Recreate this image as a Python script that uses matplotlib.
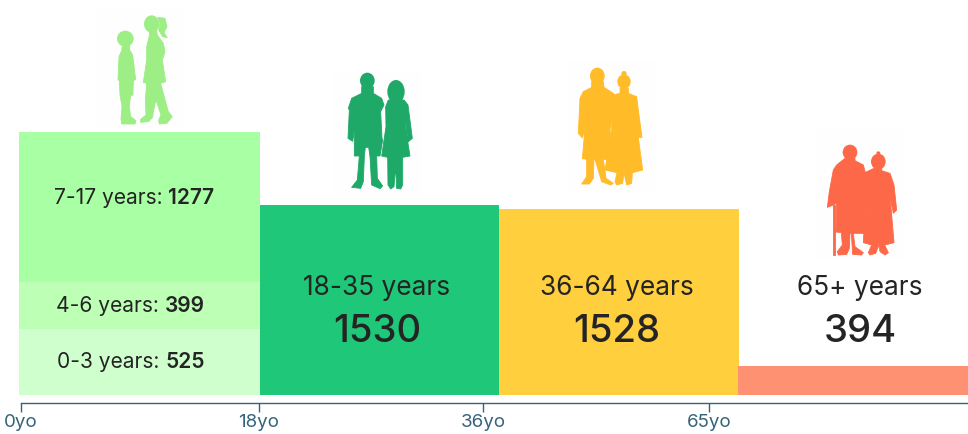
import matplotlib
matplotlib.use("Agg")
import matplotlib.pyplot as plt
from matplotlib.patches import Ellipse, Polygon, Rectangle

plt.rcParams["font.family"] = ["Inter", "DejaVu Sans"]

W, H = 968, 434
BASE = 395  # pixel row of the bars' baseline

# stacked children's bar
child_labels = ["0-3 years", "4-6 years", "7-17 years"]
child_values = [525, 399, 1277]
child_heights = [66, 47, 150]
child_colors = ["#D0FFCE", "#BCFFB5", "#A9FFA3"]
child_text_x = [131, 130, 134]
child_text_y = [362, 306, 198]

# the other bars
group_labels = ["18-35 years", "36-64 years", "65+ years"]
group_values = [1530, 1528, 394]
group_heights = [190, 186, 29]
group_lefts = [260, 499, 738]
group_widths = [239, 240, 230]
group_colors = ["#1EC878", "#FFCF3E", "#FF9173"]
group_text_x = [377, 617, 860]

tick_pos = [21, 259, 483, 709]
tick_labels = ["0yo", "18yo", "36yo", "65yo"]

INK = "#242424"
AXIS = "#35647A"


def px(pts, ox=0, oy=0, s=3):
    "zoomed crop coordinates to data coordinates"
    return [(ox + x / s, BASE - (oy + y / s)) for x, y in pts]


def blob(ax, cx, cy, w, h, color, ox=0, oy=0):
    (x, y), = px([(cx, cy)], ox, oy)
    ax.add_patch(Ellipse((x, y), w / 3, h / 3, color=color, lw=0, zorder=4))


def shape(ax, pts, color, ox=0, oy=0):
    ax.add_patch(Polygon(px(pts, ox, oy), closed=True, facecolor=color, edgecolor=color, lw=0.6,
                         joinstyle="round", zorder=4))


def backdrop(ax, x0, y0, x1, y1):
    ax.add_patch(Rectangle((x0, BASE - y1), x1 - x0, y1 - y0, color="#FFFEFE", lw=0, zorder=3))


def draw_children(ax):
    c = "#9DEE85"
    backdrop(ax, 97, 7, 185, 127)
    blob(ax, 376, 116, 50, 48, c)
    shape(ax, [(368, 130), (390, 135), (388, 148), (398, 165), (407, 238), (400, 243), (399, 285), (392, 287),
               (388, 320), (392, 350), (408, 362), (405, 372), (365, 372), (363, 355), (366, 320), (360, 285),
               (358, 243), (354, 238), (357, 170), (365, 152)], c)
    blob(ax, 455, 72, 46, 52, c)
    shape(ax, [(474, 52), (495, 55), (501, 80), (492, 98), (502, 113), (488, 110), (476, 90), (480, 70)], c)
    shape(ax, [(448, 90), (470, 92), (472, 105), (490, 130), (495, 155), (487, 180), (497, 245), (482, 250),
               (490, 280), (505, 335), (517, 350), (500, 370), (478, 372), (476, 360), (483, 345), (468, 300),
               (460, 335), (458, 352), (445, 365), (422, 367), (422, 358), (438, 345), (436, 300), (440, 250),
               (430, 247), (440, 180), (440, 140), (448, 108)], c)


def draw_adults(ax):
    c = "#1FA968"
    ox, oy = 320, 50
    backdrop(ax, 333, 72, 422, 196)
    blob(ax, 142, 92, 44, 48, c, ox, oy)
    shape(ax, [(125, 110), (160, 110), (160, 130), (185, 145), (192, 165), (182, 185), (186, 265), (188, 270),
               (180, 318), (170, 318), (172, 385), (188, 408), (180, 416), (155, 405), (150, 320), (146, 292),
               (136, 292), (133, 320), (130, 395), (122, 415), (95, 412), (112, 390), (118, 318), (103, 318),
               (103, 240), (98, 274), (84, 265), (88, 180), (85, 175), (95, 145), (125, 130)], c, ox, oy)
    blob(ax, 228, 125, 52, 70, c, ox, oy)
    shape(ax, [(205, 150), (252, 150), (264, 165), (277, 265), (264, 276), (257, 210), (256, 230), (270, 318),
               (248, 322), (248, 405), (242, 417), (230, 415), (227, 350), (222, 410), (212, 417), (204, 405),
               (203, 322), (185, 318), (198, 230), (197, 170)], c, ox, oy)


def draw_middle(ax):
    c = "#FFBB28"
    ox, oy = 320, 50
    backdrop(ax, 568, 60, 657, 191)
    blob(ax, 832, 78, 44, 50, c, ox, oy)
    shape(ax, [(815, 95), (850, 95), (852, 112), (880, 130), (885, 160), (870, 240), (880, 328), (850, 328),
               (858, 385), (880, 400), (872, 405), (845, 395), (825, 328), (822, 328), (820, 385), (808, 402),
               (785, 402), (800, 380), (800, 328), (787, 326), (795, 235), (787, 264), (775, 250), (780, 145),
               (790, 125), (815, 112)], c, ox, oy)
    blob(ax, 912, 95, 40, 44, c, ox, oy)
    blob(ax, 912, 71, 16, 16, c, ox, oy)
    shape(ax, [(900, 115), (925, 115), (925, 130), (950, 140), (955, 180), (966, 262), (956, 262), (950, 225),
               (968, 360), (937, 368), (935, 400), (920, 405), (912, 368), (908, 400), (890, 405), (885, 395),
               (891, 368), (855, 360), (875, 240), (878, 135), (900, 130)], c, ox, oy)


def draw_seniors(ax):
    c = "#FD6848"
    ox, oy = 680, 120
    backdrop(ax, 817, 129, 904, 260)
    blob(ax, 510, 97, 44, 46, c, ox, oy)
    shape(ax, [(495, 115), (525, 115), (525, 122), (550, 135), (558, 165), (553, 340), (520, 340), (525, 380),
               (550, 398), (545, 405), (518, 403), (514, 340), (510, 340), (508, 385), (500, 403), (475, 405),
               (472, 395), (487, 375), (484, 338), (468, 336), (470, 250), (460, 255), (442, 262), (448, 215),
               (460, 150), (470, 135)], c, ox, oy)
    shape(ax, [(460, 255), (466, 255), (466, 405), (460, 405)], c, ox, oy)
    blob(ax, 595, 125, 44, 48, c, ox, oy)
    blob(ax, 595, 99, 12, 10, c, ox, oy)
    shape(ax, [(582, 145), (605, 145), (605, 152), (630, 160), (642, 195), (650, 270), (640, 280), (630, 225),
               (642, 368), (614, 375), (625, 398), (615, 405), (600, 395), (597, 375), (587, 400), (570, 405),
               (565, 398), (575, 375), (550, 368), (555, 265), (550, 160)], c, ox, oy)


def mixed_label(ax, fig, cx, py, label, value):
    "regular label followed by a bold value, centred together"
    r = fig.canvas.get_renderer()
    a = ax.text(0, BASE - py, f"{label}: ", fontsize=15.1, color=INK, va="center", ha="left", zorder=5)
    b = ax.text(0, BASE - py, str(value), fontsize=15.1, color=INK, fontweight="semibold",
                va="center", ha="left", zorder=5)
    wa = a.get_window_extent(r).width
    wb = b.get_window_extent(r).width
    a.set_x(cx - (wa + wb) / 2)
    b.set_x(cx - (wa + wb) / 2 + wa)


fig = plt.figure(figsize=(W / 100, H / 100), dpi=100)
ax = fig.add_axes([0, 0, 1, 1])
ax.set_xlim(0, W)
ax.set_ylim(BASE - H, BASE)

bottom = 0
for h, col in zip(child_heights, child_colors):
    ax.bar(19, h, width=241, bottom=bottom, align="edge", color=col, lw=0)
    bottom += h
ax.bar(group_lefts, group_heights, width=group_widths, align="edge", color=group_colors, lw=0)

for x, y, lab, val in zip(child_text_x, child_text_y, child_labels, child_values):
    mixed_label(ax, fig, x, y, lab, val)
for x, lab, val in zip(group_text_x, group_labels, group_values):
    ax.text(x, BASE - 288, lab, fontsize=18.9, color=INK, ha="center", va="center", zorder=5)
    ax.text(x, BASE - 332, str(val), fontsize=27.5, color=INK, fontweight="medium", ha="center", va="center", zorder=5)

draw_children(ax)
draw_adults(ax)
draw_middle(ax)
draw_seniors(ax)

for s in ["top", "left", "right"]:
    ax.spines[s].set_visible(False)
ax.spines["bottom"].set_position(("data", BASE - 402.5))
ax.spines["bottom"].set_bounds(21, W)
ax.spines["bottom"].set_color(AXIS)
ax.spines["bottom"].set_linewidth(1)
ax.set_yticks([])
ax.set_xticks(tick_pos, tick_labels)
ax.tick_params(axis="x", direction="out", length=6.5, width=1, color=AXIS,
               labelcolor=AXIS, labelsize=13.5, pad=2)

fig.savefig("out.png", dpi=100)
plt.close(fig)
